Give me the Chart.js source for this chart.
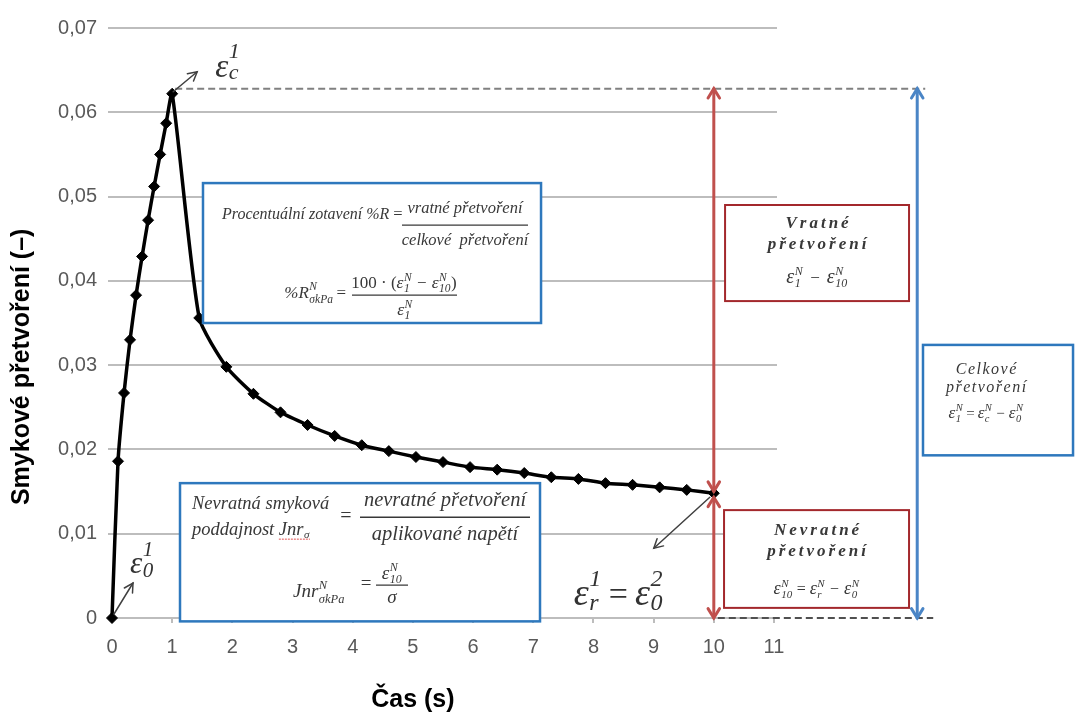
<!DOCTYPE html>
<html><head><meta charset="utf-8">
<script src="https://cdn.jsdelivr.net/npm/chart.js@4.4.1/dist/chart.umd.min.js"></script>
<style>html,body{margin:0;padding:0;background:#fff;}#wrap{width:1075px;height:715px;}</style>
</head><body><div id="wrap"><canvas id="c" width="1075" height="715"></canvas></div>
<script>
// ---- data ----
const timeLoad = [0, 0.1, 0.2, 0.3, 0.4, 0.5, 0.6, 0.7, 0.8, 0.9, 1.0];
const strainLoad = [0, 0.0186, 0.0267, 0.0330, 0.0383, 0.0429, 0.0472, 0.0512, 0.0550, 0.0587, 0.0622];
const timeRecovery = [1.45, 1.9, 2.35, 2.8, 3.25, 3.7, 4.15, 4.6, 5.05, 5.5, 5.95, 6.4, 6.85, 7.3, 7.75, 8.2, 8.65, 9.1, 9.55, 10.0];
const strainRecovery = [0.0356, 0.0298, 0.0266, 0.0244, 0.0229, 0.0216, 0.0205, 0.0198, 0.0191, 0.0185, 0.0179, 0.0176, 0.0172, 0.0167, 0.0165, 0.0160, 0.0158, 0.0155, 0.0152, 0.0148];
const xTickValues = [0, 1, 2, 3, 4, 5, 6, 7, 8, 9, 10, 11];
const xTickLabels = ['0', '1', '2', '3', '4', '5', '6', '7', '8', '9', '10', '11'];
const yTickValues = [0, 0.01, 0.02, 0.03, 0.04, 0.05, 0.06, 0.07];
const yTickLabels = ['0', '0,01', '0,02', '0,03', '0,04', '0,05', '0,06', '0,07'];
const peakLevel = 0.0628;      // dashed reference line at total strain
const totalArrowTime = 13.38;  // blue arrow position on the time axis
const xTitle = 'Čas (s)';
const yTitle = 'Smykové přetvoření (–)';

const points = timeLoad.map((t, i) => ({x: t, y: strainLoad[i]}))
  .concat(timeRecovery.map((t, i) => ({x: t, y: strainRecovery[i]})));

const SANS = '"Liberation Sans",Arial,sans-serif';
const SERIF = '"Liberation Serif","Times New Roman",serif';
const TXT = '#383838';

function setF(ctx, z, st) { ctx.font = (st || 'italic') + ' ' + z + 'px ' + SERIF; }
function tw(ctx, s, z, st, ls) {
  setF(ctx, z, st);
  if (!ls) return ctx.measureText(s).width;
  let w = 0; for (const ch of s) w += ctx.measureText(ch).width + ls; return w - ls;
}
function tdraw(ctx, s, x, y, z, st, ls) {
  setF(ctx, z, st);
  if (!ls) { ctx.fillText(s, x, y); return; }
  for (const ch of s) { ctx.fillText(ch, x, y); x += ctx.measureText(ch).width + ls; }
}
function itemW(ctx, it) {
  if (it.b !== undefined) {
    const wb = tw(ctx, it.b, it.z, it.st);
    const ws = Math.max(it.sub ? tw(ctx, it.sub, it.sz, it.st) : 0, it.sup ? tw(ctx, it.sup, it.sz, it.st) : 0);
    return wb + ws + 1;
  }
  return tw(ctx, it.t, it.z, it.st, it.ls) + (it.pad || 0) * 2;
}
function itemD(ctx, it, x, y) {
  if (it.b !== undefined) {
    const wb = tw(ctx, it.b, it.z, it.st);
    tdraw(ctx, it.b, x, y, it.z, it.st);
    const sx = x + wb + 0.5;
    if (it.sup) tdraw(ctx, it.sup, sx, y - (it.up || 0.42) * it.z, it.sz, it.st);
    if (it.sub) tdraw(ctx, it.sub, sx, y + (it.dn || 0.22) * it.z, it.sz, it.st);
    return;
  }
  tdraw(ctx, it.t, x + (it.pad || 0), y, it.z, it.st, it.ls);
}
function run(ctx, items, x, y, align) {
  const ws = items.map(it => itemW(ctx, it));
  const tot = ws.reduce((a, b) => a + b, 0);
  let cx = align === 'center' ? x - tot / 2 : (align === 'right' ? x - tot : x);
  const left = cx;
  items.forEach((it, i) => { itemD(ctx, it, cx, y); cx += ws[i]; });
  return {left: left, width: tot};
}
function eps(z, sub, sup, sz, up, dn) { return {b: 'ε', z: z, sub: sub, sup: sup, sz: sz, up: up, dn: dn, st: 'italic'}; }
function op(s, z, pad) { return {t: s, z: z, st: 'normal', pad: pad}; }
function line(ctx, x1, y1, x2, y2) { ctx.beginPath(); ctx.moveTo(x1, y1); ctx.lineTo(x2, y2); ctx.stroke(); }
function head(ctx, x1, y1, x2, y2, len, ang) {
  const a = Math.atan2(y2 - y1, x2 - x1);
  ctx.beginPath();
  ctx.moveTo(x2 - len * Math.cos(a - ang), y2 - len * Math.sin(a - ang));
  ctx.lineTo(x2, y2);
  ctx.lineTo(x2 - len * Math.cos(a + ang), y2 - len * Math.sin(a + ang));
  ctx.stroke();
}
function arrow2(ctx, x, y1, y2, len) { line(ctx, x, y1, x, y2); head(ctx, x, y2, x, y1, len, 0.55); head(ctx, x, y1, x, y2, len, 0.55); }
function box(ctx, x0, y0, x1, y1, color, w) {
  ctx.save(); ctx.fillStyle = '#fff'; ctx.fillRect(x0, y0, x1 - x0, y1 - y0);
  ctx.strokeStyle = color; ctx.lineWidth = w; ctx.setLineDash([]); ctx.strokeRect(x0, y0, x1 - x0, y1 - y0); ctx.restore();
}

const annot = {
  id: 'annot',
  afterDraw(chart) {
    const ctx = chart.ctx, xs = chart.scales.x, ys = chart.scales.y;
    const X = v => xs.getPixelForValue(v), Y = v => ys.getPixelForValue(v);
    const nL = strainLoad.length, nR = strainRecovery.length;
    const pk = {x: X(timeLoad[nL - 1]), y: Y(strainLoad[nL - 1])};
    const org = {x: X(timeLoad[0]), y: Y(strainLoad[0])};
    const end = {x: X(timeRecovery[nR - 1]), y: Y(strainRecovery[nR - 1])};
    const yTop = Y(peakLevel), y0 = Y(0), xBlue = X(totalArrowTime);
    ctx.save();
    ctx.textAlign = 'left'; ctx.textBaseline = 'alphabetic';
    // dashed reference lines
    ctx.lineWidth = 2; ctx.setLineDash([7, 4]);
    ctx.strokeStyle = '#808080'; line(ctx, pk.x + 3, yTop, xBlue + 8, yTop);
    ctx.strokeStyle = '#505050'; line(ctx, end.x + 4, y0, xBlue + 16, y0);
    ctx.setLineDash([]);
    // red arrows
    ctx.strokeStyle = '#c0504d'; ctx.lineWidth = 3; ctx.lineCap = 'round';
    arrow2(ctx, end.x, yTop, end.y - 2, 11);
    arrow2(ctx, end.x, end.y + 4, y0, 11);
    // blue arrow
    ctx.strokeStyle = '#4a85c6';
    arrow2(ctx, xBlue, yTop, y0, 11);
    // pointer arrows
    ctx.strokeStyle = '#404040'; ctx.lineWidth = 1.5;
    line(ctx, pk.x + 1, pk.y - 2, pk.x + 25, pk.y - 22); head(ctx, pk.x + 1, pk.y - 2, pk.x + 25, pk.y - 22, 10, 0.5);
    line(ctx, org.x + 2, org.y - 4, org.x + 21, org.y - 35); head(ctx, org.x + 2, org.y - 4, org.x + 21, org.y - 35, 10, 0.5);
    line(ctx, end.x - 4, end.y + 4, end.x - 60, end.y + 55); head(ctx, end.x - 4, end.y + 4, end.x - 60, end.y + 55, 10, 0.5);
    ctx.lineCap = 'butt';

    // ---- boxes ----
    const B1 = [X(1.512), Y(0.0516), X(7.129), Y(0.0350)];
    const B2 = [X(1.13), Y(0.0160), X(7.112), Y(-0.0004)];
    const B3 = [X(10.187), Y(0.0490), X(13.244), Y(0.0376)];
    const B4 = [X(10.17), Y(0.0128), X(13.244), Y(0.0012)];
    const B5 = [X(13.476), Y(0.0324), X(15.969), Y(0.0193)];
    box(ctx, B1[0], B1[1], B1[2], B1[3], '#2e78bd', 2.5);
    box(ctx, B2[0], B2[1], B2[2], B2[3], '#2e78bd', 2.5);
    box(ctx, B3[0], B3[1], B3[2], B3[3], '#a3282c', 2);
    box(ctx, B4[0], B4[1], B4[2], B4[3], '#a3282c', 2);
    box(ctx, B5[0], B5[1], B5[2], B5[3], '#2e78bd', 2.5);

    ctx.fillStyle = TXT; ctx.strokeStyle = TXT;
    // box 1: Procentuální zotavení
    let bx = B1[0], by = B1[1];
    run(ctx, [{t: 'Procentuální zotavení %R ', z: 16}, op('=', 16.5, 0)], bx + 19, by + 36);
    ctx.lineWidth = 1.3; line(ctx, bx + 199, by + 42, bx + 325, by + 42);
    run(ctx, [{t: 'vratné přetvoření', z: 16.5}], bx + 262, by + 30, 'center');
    run(ctx, [{t: 'celkové  přetvoření', z: 16.5}], bx + 262, by + 62, 'center');
    run(ctx, [{b: '%R', z: 17, sup: 'N', sub: 'σkPa', sz: 11.5, st: 'italic', up: 0.45, dn: 0.3}, op('=', 17, 3)], bx + 146, by + 115, 'right');
    line(ctx, bx + 149, by + 112, bx + 254, by + 112);
    run(ctx, [op('100 · (', 17, 0), eps(17.5, '1', 'N', 11.5), op('−', 17, 5), eps(17.5, '10', 'N', 11.5), op(')', 17, 0)], bx + 201, by + 105, 'center');
    run(ctx, [eps(17.5, '1', 'N', 11.5)], bx + 202, by + 132, 'center');

    // box 2: Nevratná smyková poddajnost
    bx = B2[0]; by = B2[1];
    run(ctx, [{t: 'Nevratná smyková', z: 18.5}], bx + 12, by + 26);
    const r = run(ctx, [{t: 'poddajnost ', z: 18.5}], bx + 12, by + 52);
    const j = run(ctx, [{b: 'Jnr', z: 18.5, sub: 'σ', sz: 11, st: 'italic', dn: 0.15}], r.left + r.width, by + 52);
    ctx.save(); ctx.strokeStyle = '#e05050'; ctx.lineWidth = 1; ctx.setLineDash([2, 1]);
    line(ctx, j.left, by + 56, j.left + j.width, by + 56); ctx.restore();
    run(ctx, [op('=', 20, 0)], bx + 166, by + 39, 'center');
    ctx.lineWidth = 1.5; line(ctx, bx + 180, by + 34, bx + 350, by + 34);
    run(ctx, [{t: 'nevratné přetvoření', z: 20.5}], bx + 265, by + 23, 'center');
    run(ctx, [{t: 'aplikované napětí', z: 20.5}], bx + 265, by + 57, 'center');
    run(ctx, [{b: 'Jnr', z: 19, sup: 'N', sub: 'σkPa', sz: 12.5, st: 'italic', up: 0.45, dn: 0.3}], bx + 113, by + 114);
    run(ctx, [op('=', 19, 0)], bx + 186, by + 106, 'center');
    ctx.lineWidth = 1.3; line(ctx, bx + 196, by + 102, bx + 228, by + 102);
    run(ctx, [eps(19, '10', 'N', 12)], bx + 212, by + 96, 'center');
    run(ctx, [{t: 'σ', z: 19}], bx + 212, by + 120, 'center');

    // box 3: Vratné přetvoření
    bx = B3[0]; by = B3[1];
    let cx = (B3[0] + B3[2]) / 2;
    run(ctx, [{t: 'Vratné', z: 17, st: 'bold italic', ls: 3}], cx, by + 23, 'center');
    run(ctx, [{t: 'přetvoření', z: 17, st: 'bold italic', ls: 3}], cx, by + 44, 'center');
    run(ctx, [eps(20, '1', 'N', 12), op('−', 17, 7), eps(20, '10', 'N', 12)], cx, by + 78, 'center');

    // box 4: Nevratné přetvoření
    bx = B4[0]; by = B4[1];
    cx = (B4[0] + B4[2]) / 2;
    run(ctx, [{t: 'Nevratné', z: 17, st: 'bold italic', ls: 3}], cx, by + 25, 'center');
    run(ctx, [{t: 'přetvoření', z: 17, st: 'bold italic', ls: 3}], cx, by + 46, 'center');
    run(ctx, [eps(18, '10', 'N', 11), op('=', 16, 4), eps(18, 'r', 'N', 11), op('−', 16, 5), eps(18, '0', 'N', 11)], cx, by + 84, 'center');

    // box 5: Celkové přetvoření
    bx = B5[0]; by = B5[1];
    cx = bx + 63;
    run(ctx, [{t: 'Celkové', z: 16, st: 'italic', ls: 1.5}], cx, by + 29, 'center');
    run(ctx, [{t: 'přetvoření', z: 16, st: 'italic', ls: 1.5}], cx, by + 47, 'center');
    run(ctx, [eps(17, '1', 'N', 10.5), op('=', 15, 3), eps(17, 'c', 'N', 10.5), op('−', 15, 4), eps(17, '0', 'N', 10.5)], cx, by + 73, 'center');

    // epsilon labels near the curve
    ctx.fillStyle = '#333';
    run(ctx, [eps(33, 'c', '1', 22, 0.56, 0.08)], pk.x + 43, pk.y - 17);
    run(ctx, [eps(31, '0', '1', 21, 0.56, 0.12)], org.x + 18, org.y - 45);
    run(ctx, [eps(38, 'r', '1', 24, 0.5, 0.12), op('=', 34, 7), eps(38, '0', '2', 24, 0.5, 0.12)], end.x - 140, end.y + 112);

    // axis titles
    ctx.fillStyle = '#000'; ctx.font = 'bold 25px ' + SANS;
    ctx.textAlign = 'center'; ctx.textBaseline = 'middle';
    ctx.fillText(xTitle, X(5), 700);
    ctx.save(); ctx.translate(22, Y(0.0298)); ctx.rotate(-Math.PI / 2); ctx.fillText(yTitle, 0, 0); ctx.restore();
    ctx.restore();
  }
};

const chart = new Chart(document.getElementById('c'), {
  type: 'line',
  data: {datasets: [{
    data: points, borderColor: '#000', borderWidth: 3.5, tension: 0.2, fill: false, clip: false,
    pointStyle: 'rectRot', pointRadius: 5.5, pointBackgroundColor: '#000', pointBorderColor: '#000', pointBorderWidth: 1
  }]},
  options: {
    responsive: false, animation: false, devicePixelRatio: 1,
    layout: {padding: {left: 0, right: 298, top: 28, bottom: 0}},
    plugins: {legend: {display: false}, tooltip: {enabled: false}},
    scales: {
      x: {
        type: 'linear', min: 0, max: 11.05,
        afterBuildTicks(s) { s.ticks = xTickValues.map(v => ({value: v})); },
        afterFit(s) { s.height = 97; },
        ticks: {autoSkip: false, maxRotation: 0, minRotation: 0, padding: 12, color: '#595959',
          font: {family: SANS, size: 20}, callback: (v, i) => xTickLabels[i]},
        grid: {drawOnChartArea: false, drawTicks: true, tickLength: 5, color: '#bdbdbd', lineWidth: 2},
        border: {display: true, color: '#bdbdbd', width: 2}
      },
      y: {
        type: 'linear', min: 0, max: 0.07,
        afterBuildTicks(s) { s.ticks = yTickValues.map(v => ({value: v})); },
        afterFit(s) { s.width = 112; },
        ticks: {padding: 11, color: '#595959', font: {family: SANS, size: 20}, callback: (v, i) => yTickLabels[i]},
        grid: {color: '#bdbdbd', lineWidth: 2, tickLength: 4},
        border: {display: false}
      }
    }
  },
  plugins: [annot]
});
</script></body></html>
